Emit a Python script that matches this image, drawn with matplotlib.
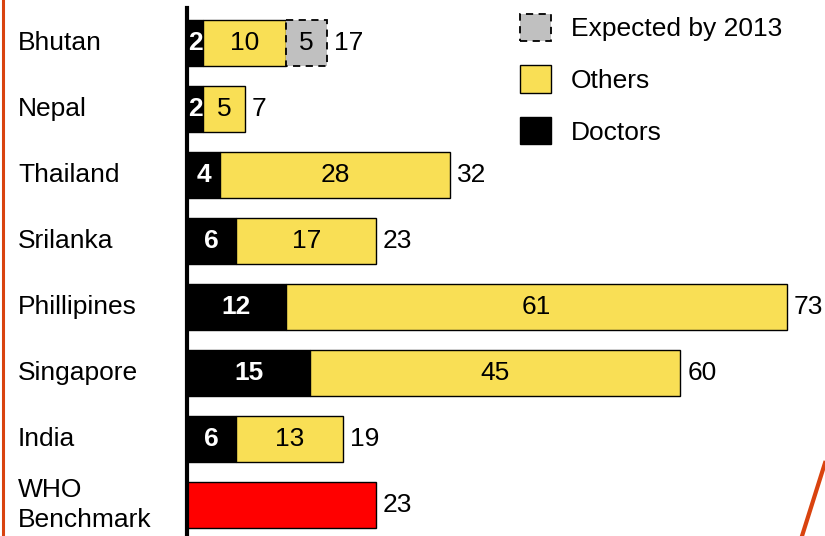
import matplotlib.pyplot as plt
from matplotlib.lines import Line2D
from matplotlib.patches import Patch
from matplotlib.transforms import blended_transform_factory

plt.rcParams['font.family'] = ['Liberation Sans', 'DejaVu Sans']

countries = ["Bhutan", "Nepal", "Thailand", "Srilanka", "Phillipines",
             "Singapore", "India", "WHO\nBenchmark"]
doctors = [2, 2, 4, 6, 12, 15, 6, 0]
others = [10, 5, 28, 17, 61, 45, 13, 0]
expected = [5, 0, 0, 0, 0, 0, 0, 0]
benchmark = [0, 0, 0, 0, 0, 0, 0, 23]

c_yellow = '#F9DF55'
c_grey = '#C0C0C0'
c_orange = '#D9430F'

fig = plt.figure(figsize=(8.25, 5.36), dpi=100)
ax = fig.add_axes([187 / 825, 0, 638 / 825, 528 / 536])

y = list(range(len(countries)))
h = 0.71
left2 = [d + o for d, o in zip(doctors, others)]

# only draw non-empty segments (otherwise zero-width edges show up)
for i in y:
    if doctors[i]:
        ax.barh(i, doctors[i], height=h, color='black', edgecolor='black', linewidth=1)
    if others[i]:
        ax.barh(i, others[i], left=doctors[i], height=h, color=c_yellow,
                edgecolor='black', linewidth=1)
    if expected[i]:
        ax.barh(i, expected[i], left=left2[i], height=h, color=c_grey,
                edgecolor='black', linewidth=1.3, linestyle=(0, (4, 3)))
    if benchmark[i]:
        ax.barh(i, benchmark[i], height=h, color='#FF0000', edgecolor='black', linewidth=1)

fs = 19
for i in y:
    if doctors[i]:
        ax.text(doctors[i] / 2, i, str(doctors[i]), ha='center', va='center',
                color='white', fontsize=fs, fontweight='bold')
    if others[i]:
        ax.text(doctors[i] + others[i] / 2, i, str(others[i]), ha='center',
                va='center', color='black', fontsize=fs)
    if expected[i]:
        ax.text(left2[i] + expected[i] / 2, i, str(expected[i]), ha='center',
                va='center', color='black', fontsize=fs)
    total = doctors[i] + others[i] + expected[i] + benchmark[i]
    ax.annotate(str(total), (total, i), xytext=(5, 0), textcoords='offset points',
                ha='left', va='center', fontsize=fs)

tr = blended_transform_factory(fig.transFigure, ax.transData)
for i, name in enumerate(countries):
    ax.text(18 / 825, i, name, transform=tr, ha='left', va='center',
            fontsize=fs, linespacing=1.3)

ax.set_xlim(0, 638 / 8.22)
ax.set_ylim(7.47, -0.53)
for s in ['top', 'right', 'bottom']:
    ax.spines[s].set_visible(False)
ax.spines['left'].set_linewidth(3)
ax.set_xticks([])
ax.set_yticks([])

handles = [Patch(facecolor=c_grey, edgecolor='black', linestyle=(0, (4, 3)), linewidth=1.3),
           Patch(facecolor=c_yellow, edgecolor='black', linewidth=1),
           Patch(facecolor='black', edgecolor='black')]
fig.legend(handles, ['Expected by 2013', 'Others', 'Doctors'], loc='upper left',
           bbox_to_anchor=(496 / 825, 1 + 10 / 536), frameon=False, fontsize=fs,
           handlelength=1.2, handleheight=1.2, handletextpad=0.75, labelspacing=0.92)

fig.add_artist(Line2D([3 / 825, 3 / 825], [0, 1], color=c_orange, linewidth=2.2,
                      transform=fig.transFigure))
fig.add_artist(Line2D([825 / 825, 802 / 825], [1 - 463 / 536, 0], color=c_orange,
                      linewidth=3, transform=fig.transFigure))

fig.savefig('out.png', dpi=100)
